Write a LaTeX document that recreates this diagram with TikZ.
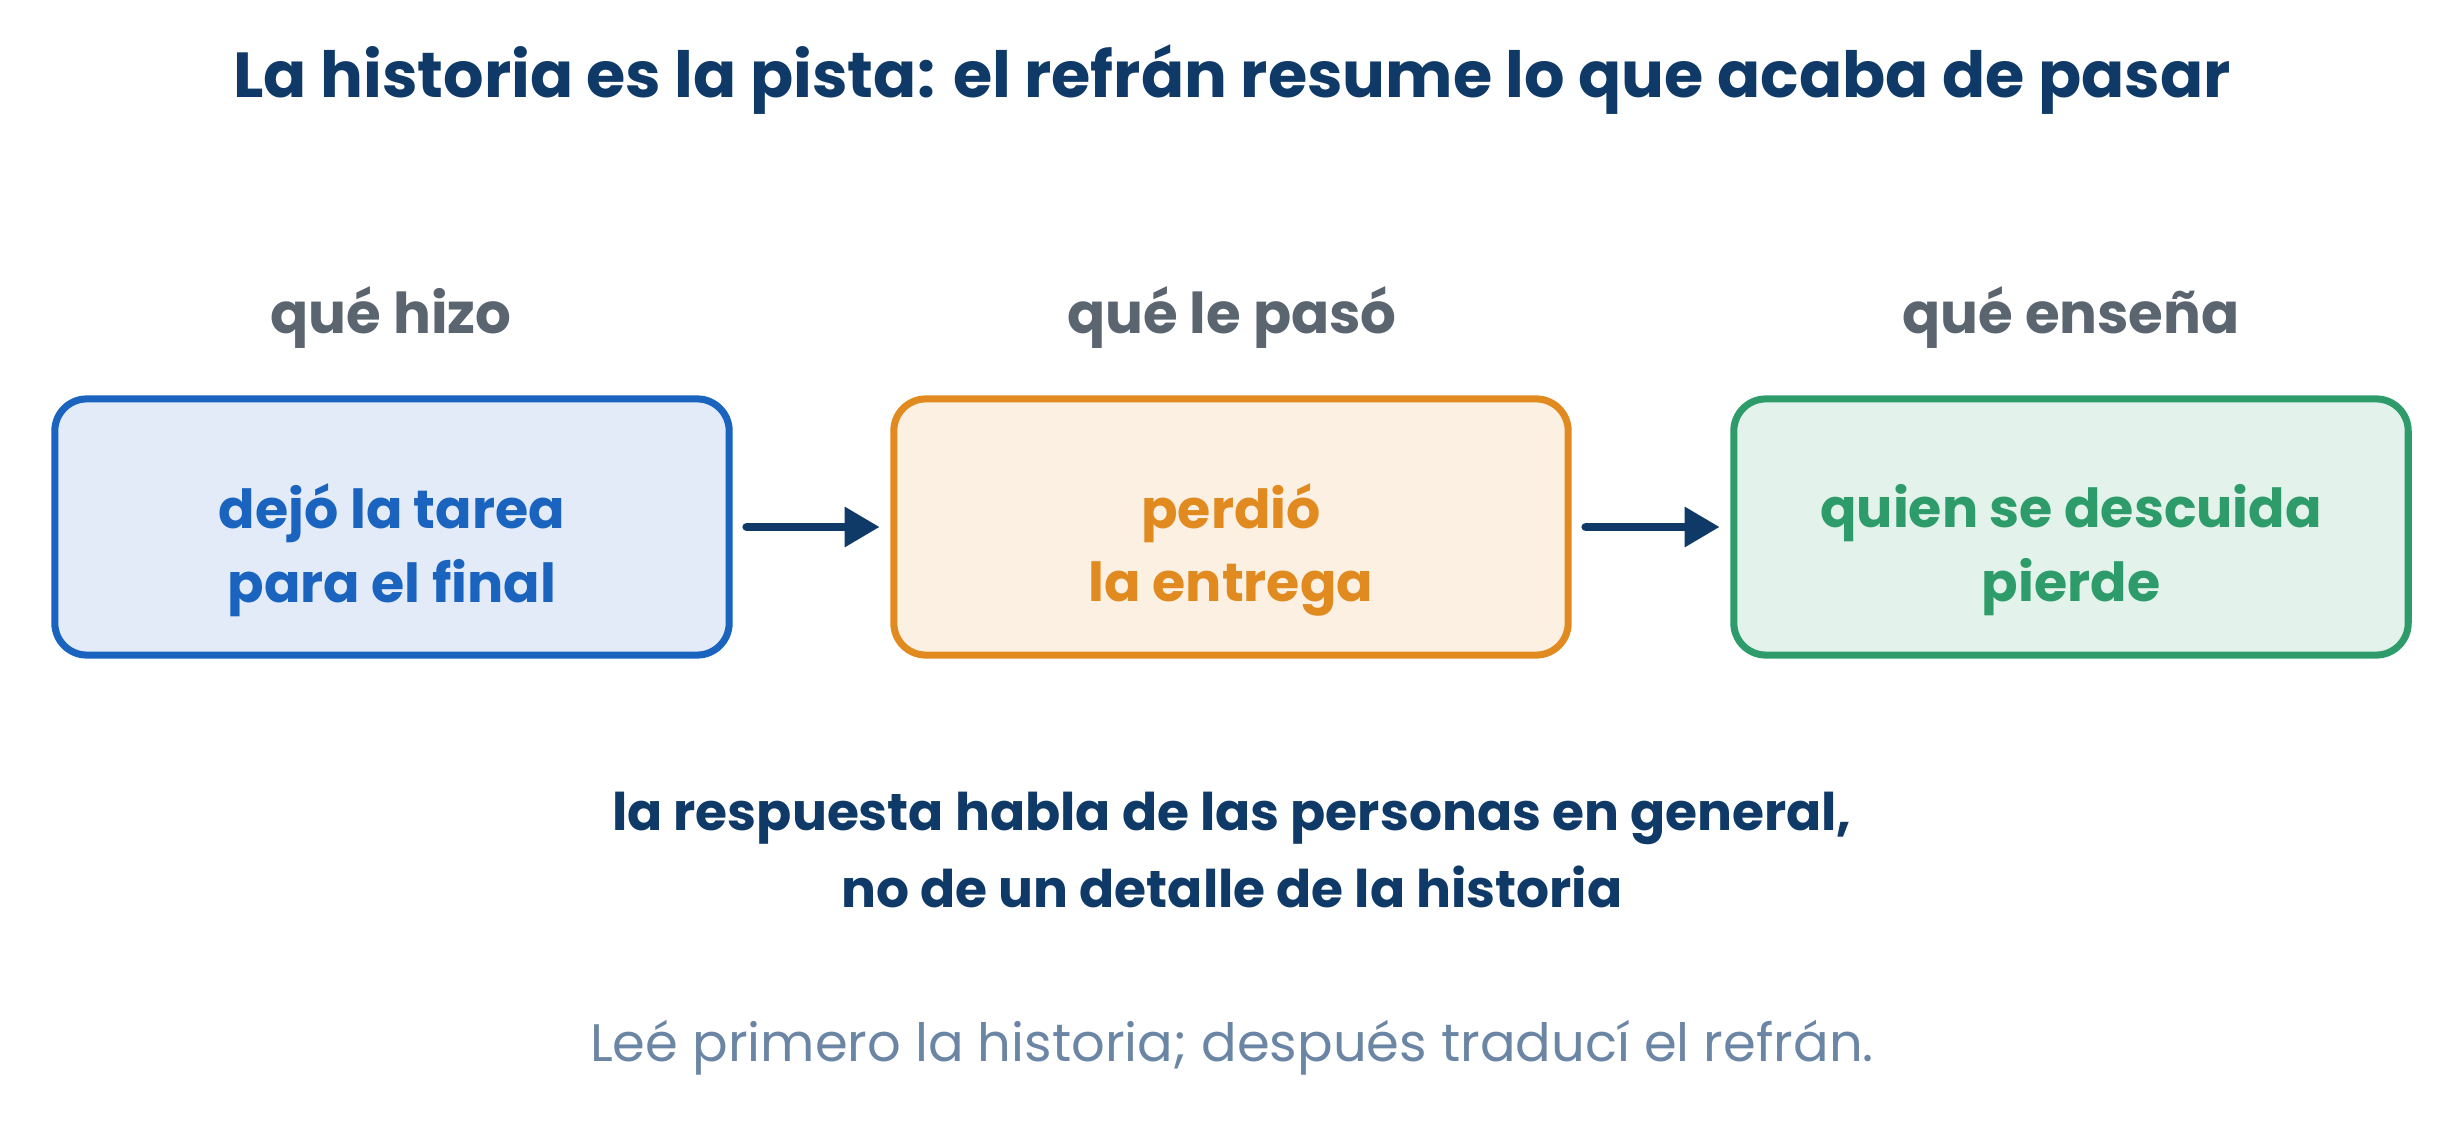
\documentclass[tikz,border=0pt]{standalone}
\usepackage{fontspec}
\setmainfont{Poppins}
\usetikzlibrary{arrows.meta}

\definecolor{navy}{HTML}{0F3A68}
\definecolor{headgray}{HTML}{5A6570}
\definecolor{blueline}{HTML}{1A64BF}
\definecolor{bluefill}{HTML}{E2EBF7}
\definecolor{orangeline}{HTML}{E08A1F}
\definecolor{orangefill}{HTML}{FBF0E2}
\definecolor{greenline}{HTML}{2E9C6A}
\definecolor{greenfill}{HTML}{E3F2EA}
\definecolor{hintgray}{HTML}{6B85A5}

\begin{document}
\begin{tikzpicture}[
 x=0.01cm, y=-0.01cm,
 box/.style={draw, rectangle, rounded corners=0.32cm, line width=2pt, minimum width=6.74cm, minimum height=2.56cm},
 boxtext/.style={align=center, font=\fontsize{15.3}{21}\selectfont\bfseries},
 head/.style={text=headgray, font=\fontsize{16}{20}\selectfont\bfseries},
 arrow/.style={-{Triangle[length=0.35cm,width=0.38cm]}, line width=2.5pt, draw=navy, line cap=round}
]
\useasboundingbox (0,0) rectangle (2464,1128);

% titulo
\node[text=navy, font=\fontsize{18.1}{22}\selectfont\bfseries] (title) at (1232,80) {La historia es la pista: el refrán resume lo que acaba de pasar};

% encabezados
\node[head] (h1) at (391,318) {qué hizo};
\node[head] (h2) at (1232,318) {qué le pasó};
\node[head] (h3) at (2071,318) {qué enseña};

% cajas
\node[box, draw=blueline, fill=bluefill] (hizo) at (392,527) {};
\node[box, draw=orangeline, fill=orangefill] (paso) at (1231,527) {};
\node[box, draw=greenline, fill=greenfill] (ensena) at (2071,527) {};

% textos de las cajas
\node[boxtext, text=blueline] (hizotxt) at ([yshift=-0.23cm]hizo.center) {dejó la tarea\\para el final};
\node[boxtext, text=orangeline] (pasotxt) at ([yshift=-0.23cm]paso.center) {perdió\\la entrega};
\node[boxtext, text=greenline] (ensenatxt) at ([yshift=-0.23cm]ensena.center) {quien se descuida\\pierde};

% flechas
\draw[arrow, shorten <=4pt, shorten >=3pt] (hizo) -- (paso);
\draw[arrow, shorten <=4pt, shorten >=3pt] (paso) -- (ensena);

% conclusion
\node[text=navy, align=center, font=\fontsize{14.75}{21.9}\selectfont\bfseries] (nota) at (1232,850) {la respuesta habla de las personas en general,\\no de un detalle de la historia};

% pie
\node[text=hintgray, font=\fontsize{15}{20}\selectfont] (pie) at (1232,1048) {Leé primero la historia; después traducí el refrán.};

\end{tikzpicture}
\end{document}
